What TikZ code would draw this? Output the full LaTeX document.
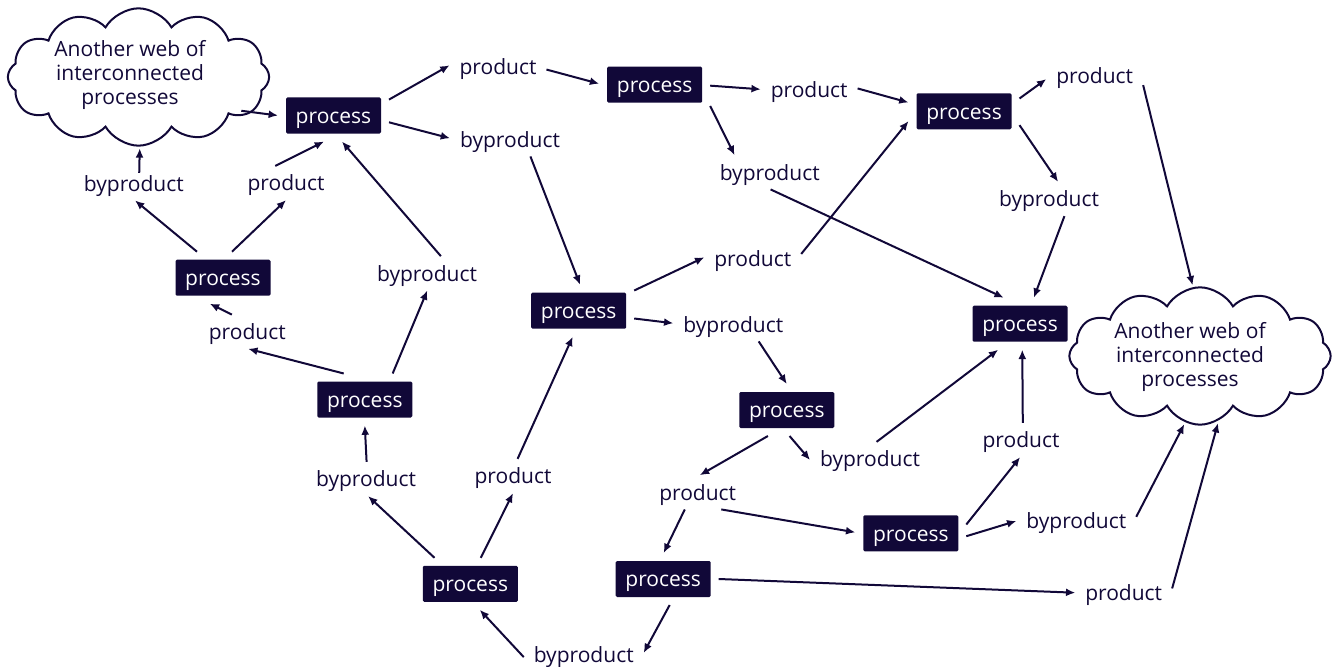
\documentclass[tikz,border=0pt]{standalone}
\usepackage{fontspec}
\setmainfont{Open Sans}
\usetikzlibrary{shapes.symbols,arrows.meta}
\definecolor{navy}{HTML}{110838}
\newcommand\labfont{\fontsize{15.75pt}{18pt}\selectfont}
\tikzset{
  proc/.style={fill=navy, text=white, minimum width=71.25pt, minimum height=27pt,
    inner sep=0pt, outer sep=6pt, rounded corners=1pt, font=\labfont,
    text height=13.9pt, text depth=2.1pt},
  lab/.style={text=navy, inner xsep=3.75pt, inner ysep=1.1pt, outer sep=3.75pt, font=\labfont,
    text height=13.9pt, text depth=2.1pt},
  arr/.style={draw=navy, line width=1.5pt, -{Latex[length=7pt,width=6pt]}},
  cloudsh/.style={cloud, draw=navy, line width=1.5pt, cloud puffs=12, cloud puff arc=120,
    aspect=2, minimum width=196pt, minimum height=103pt, outer sep=2pt},
  cloudtxt/.style={text=navy, align=center, font=\labfont}
}
\begin{document}
\begin{tikzpicture}[x=0.75pt,y=-0.75pt]
\useasboundingbox (0,0) rectangle (1335,667);
% clouds
\node[cloudsh] (c1) at (138.5,77) {};
\node[cloudtxt] (c1t) at (130,75) {Another web of\\interconnected\\processes};
\node[cloudsh] (c2) at (1200,356) {};
\node[cloudtxt] (c2t) at (1190,356.5) {Another web of\\interconnected\\processes};
% processes
\node[proc] (P1) at (333.5,115.5) {process};
\node[proc] (P2) at (654.7,84.7) {process};
\node[proc] (P3) at (964,111.3) {process};
\node[proc] (P4) at (223,277.7) {process};
\node[proc] (P5) at (578.7,310.7) {process};
\node[proc] (P6) at (1020,323.7) {process};
\node[proc] (P7) at (364.8,399.5) {process};
\node[proc] (P8) at (786.8,410) {process};
\node[proc] (P9) at (910.8,533.3) {process};
\node[proc] (P10) at (470.3,583.8) {process};
\node[proc] (P11) at (663.2,579) {process};
% labels
\node[lab] (L1) at (498,67) {product};
\node[lab] (L2) at (510,139.3) {byproduct};
\node[lab] (L3) at (809.2,89.3) {product};
\node[lab] (L4) at (769.7,172.3) {byproduct};
\node[lab] (L5) at (1094.7,75.7) {product};
\node[lab] (L6) at (1049,199) {byproduct};
\node[lab] (L7) at (133.8,183.3) {byproduct};
\node[lab] (L8) at (286,183) {product};
\node[lab] (L9) at (427,273.3) {byproduct};
\node[lab] (L10) at (752.8,259) {product};
\node[lab] (L11) at (733.3,324.3) {byproduct};
\node[lab] (L12) at (247.3,331.7) {product};
\node[lab] (L13) at (366,479) {byproduct};
\node[lab] (L14) at (513,476) {product};
\node[lab] (L15) at (870,459) {byproduct};
\node[lab] (L16) at (1021,440) {product};
\node[lab] (L17) at (697.7,492.3) {product};
\node[lab] (L18) at (1076.3,521) {byproduct};
\node[lab] (L19) at (1123.7,592.7) {product};
\node[lab] (L20) at (583.7,655) {byproduct};
% connectors
\draw[arr, shorten <=-10pt] (c1.-17) -- (P1.180);
\draw[arr] (P1.16) -- (L1.178);
\draw[arr] (P1.-7) -- (L2.179);
\draw[arr] (L1.-3) -- (P2.179);
\draw[arr] (P2.-1) -- (L3.180);
\draw[arr] (P2.-21) -- (L4.154);
\draw[arr] (L3.1) -- (P3.171);
\draw[arr] (P3.13) -- (L5.184);
\draw[arr] (P3.-14) -- (L6.62);
\draw[arr] (L5.-11) -- (c2.96);
\draw[arr] (L6.-48) -- (P6.62);
\draw[arr] (L4.-87) -- (P6.122);
\draw[arr] (L2.-40) -- (P5.87);
\draw[arr] (P5.20) -- (L10.178);
\draw[arr] (L10.6) -- (P3.190);
\draw[arr] (P5.-8) -- (L11.179);
\draw[arr] (L11.-34) -- (P8.90);
\draw[arr] (P8.-84) -- (L15.181);
\draw[arr] (P8.234) -- (L17.83);
\draw[arr] (L15.69) -- (P6.230);
\draw[arr] (L16.84) -- (P6.-85);
\draw[arr] (P9.9) -- (L16.267);
\draw[arr] (L17.-36) -- (P9.179);
\draw[arr] (L17.233) -- (P11.89);
\draw[arr] (P9.-3) -- (L18.180);
\draw[arr] (L18.4) -- (c2.257);
\draw[arr] (P11.0) -- (L19.180);
\draw[arr] (L19.5) -- (c2.-75);
\draw[arr] (P11.-76) -- (L20.2);
\draw[arr] (L20.182) -- (P10.-70);
\draw[arr] (P10.144) -- (L13.-83);
\draw[arr] (P10.68) -- (L14.-90);
\draw[arr] (L14.75) -- (P5.257);
\draw[arr] (L13.88) -- (P7.-90);
\draw[arr] (P7.129) -- (L12.-87);
\draw[arr] (P7.43) -- (L9.-89);
\draw[arr] (L9.51) -- (P1.-72);
\draw[arr] (L12.132) -- (P4.243);
\draw[arr] (P4.135) -- (L7.-86);
\draw[arr] (P4.71) -- (L8.-90);
\draw[arr] (L8.122) -- (P1.250);
\draw[arr, shorten <=-5pt] (L7.72) -- (c1.-89);
\end{tikzpicture}
\end{document}
